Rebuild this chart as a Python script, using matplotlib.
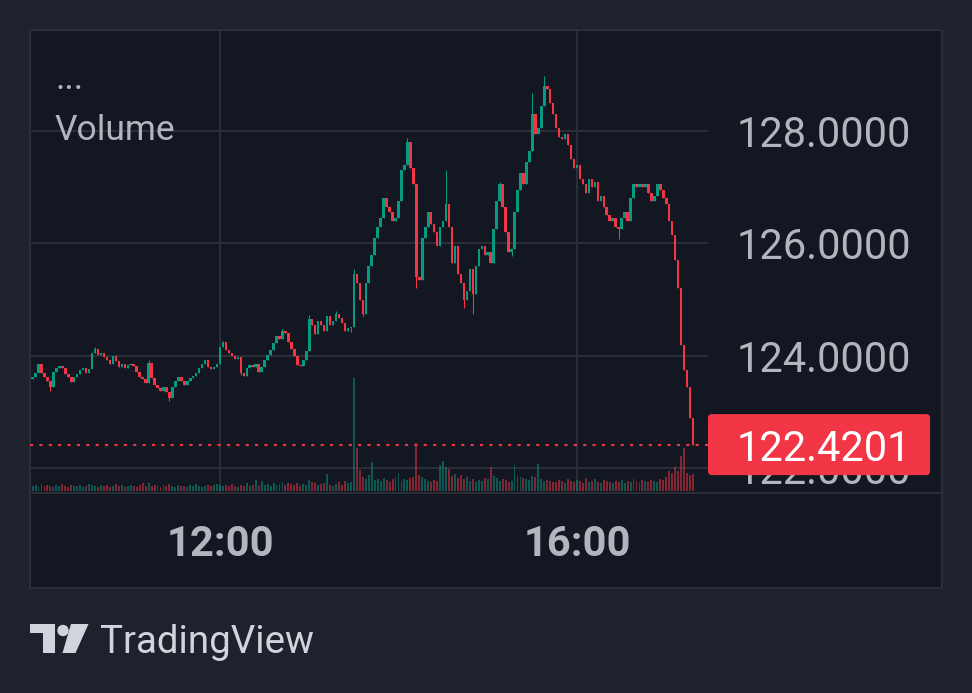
import numpy as np
import matplotlib
matplotlib.use("Agg")
import matplotlib.pyplot as plt
from matplotlib.patches import FancyBboxPatch, Polygon, Circle

# 2-minute bars, 09:54 -> 17:18
start_min = 9 * 60 + 54
bar_min = 2
first_open = 123.58
closes = [
    123.62, 123.70, 123.85, 123.70, 123.62, 123.55, 123.45, 123.72, 123.78, 123.81,
    123.78, 123.68, 123.62, 123.53, 123.62, 123.68, 123.74, 123.78, 123.70, 123.76,
    124.05, 124.12, 124.02, 124.05, 123.98, 123.92, 123.85, 123.99, 123.90, 123.80,
    123.86, 123.78, 123.84, 123.86, 123.82, 123.72, 123.62, 123.58, 123.52, 123.88,
    123.60, 123.48, 123.42, 123.38, 123.44, 123.36, 123.25, 123.45, 123.55, 123.62,
    123.55, 123.48, 123.56, 123.60, 123.64, 123.70, 123.78, 123.86, 123.92, 123.80,
    123.76, 123.80, 123.86, 124.15, 124.24, 124.10, 124.05, 124.00, 123.94, 123.98,
    123.70, 123.64, 123.78, 123.84, 123.80, 123.86, 123.72, 123.80, 123.92, 124.02,
    124.10, 124.22, 124.35, 124.30, 124.44, 124.40, 124.25, 124.12, 124.00, 123.84,
    123.82, 123.92, 124.08, 124.65, 124.55, 124.38, 124.62, 124.55, 124.45, 124.70,
    124.55, 124.62, 124.75, 124.68, 124.58, 124.45, 124.50, 124.52, 125.45, 125.30,
    125.00, 124.75, 125.30, 125.60, 125.80, 126.10, 126.30, 126.45, 126.80, 126.65,
    126.55, 126.40, 126.45, 126.75, 127.30, 127.40, 127.80, 127.35, 127.05, 125.40,
    125.35, 126.10, 126.30, 126.55, 126.35, 126.20, 125.95, 126.30, 126.40, 126.70,
    126.30, 125.65, 125.95, 125.45, 125.30, 125.00, 125.15, 125.55, 125.10, 125.60,
    125.90, 125.95, 125.80, 125.85, 125.65, 126.25, 126.75, 127.05, 126.65, 126.20,
    125.85, 125.90, 126.55, 126.95, 127.25, 127.05, 127.45, 127.65, 128.30, 127.95,
    128.05, 128.45, 128.80, 128.75, 128.50, 128.30, 128.05, 127.90, 127.85, 127.95,
    127.75, 127.50, 127.35, 127.40, 127.15, 127.05, 126.90, 127.15, 127.00, 127.10,
    126.75, 126.85, 126.65, 126.50, 126.40, 126.45, 126.30, 126.25, 126.45, 126.55,
    126.40, 126.80, 127.05, 127.00, 127.05, 127.00, 127.05, 126.90, 126.75, 126.85,
    127.05, 126.95, 126.80, 126.70, 126.40, 126.15, 125.70, 125.20, 124.20, 123.75,
    123.45, 122.90, 122.4201,
]
wick_high = {21: 124.15, 39: 123.92, 64: 124.27, 84: 124.47, 93: 124.72, 102: 124.80,
             108: 125.55, 126: 127.88, 139: 127.30, 157: 127.10, 168: 128.68, 172: 128.97}
wick_low = {6: 123.38, 46: 123.20, 70: 123.65, 107: 124.42, 111: 124.70, 129: 125.20,
            145: 124.85, 148: 124.75, 161: 125.78, 197: 126.08}
volume = [
    5, 6, 4, 7, 5, 6, 5, 4, 6, 5,
    7, 5, 4, 6, 5, 5, 6, 4, 5, 7,
    6, 5, 4, 6, 5, 6, 4, 5, 7, 5,
    6, 4, 5, 6, 5, 4, 6, 8, 5, 8,
    5, 6, 5, 4, 6, 5, 7, 5, 4, 6,
    5, 5, 4, 6, 5, 7, 5, 4, 5, 6,
    5, 6, 7, 6, 5, 6, 5, 7, 5, 4,
    6, 5, 8, 5, 6, 11, 5, 10, 6, 7,
    5, 8, 6, 7, 9, 6, 8, 7, 6, 8,
    5, 7, 6, 11, 9, 8, 6, 7, 8, 17,
    6, 5, 7, 9, 6, 10, 8, 9, 113, 43,
    21, 14, 12, 16, 29, 11, 12, 10, 13, 11,
    9, 12, 14, 18, 10, 12, 11, 13, 14, 48,
    16, 14, 12, 10, 9, 11, 10, 26, 30, 24,
    22, 15, 17, 13, 16, 12, 14, 10, 12, 9,
    11, 10, 13, 12, 24, 15, 13, 10, 12, 11,
    9, 10, 26, 15, 14, 13, 12, 11, 15, 14,
    27, 12, 10, 11, 10, 9, 9, 11, 10, 8,
    12, 10, 9, 11, 10, 8, 13, 9, 10, 12,
    9, 8, 11, 10, 9, 8, 10, 9, 11, 8,
    10, 9, 12, 10, 9, 11, 10, 9, 11, 10,
    9, 12, 11, 14, 20, 18, 24, 20, 35, 43,
    18, 16, 17,
]
price_ticks = [122, 124, 126, 128]
time_ticks = [12 * 60, 16 * 60]
time_labels = ["12:00", "16:00"]

UP = "#089981"
DOWN = "#f23645"
BG = "#1e222d"
PANE = "#131722"
GRID = "#2a2e39"
TXT = "#b2b5be"

plt.rcParams["font.family"] = ["Roboto", "DejaVu Sans"]

W, H = 972, 693
fig = plt.figure(figsize=(W / 100, H / 100), dpi=100, facecolor=BG)


def box(l, t, r, b):
    return [l / W, 1 - b / H, (r - l) / W, (b - t) / H]


closes = np.array(closes)
opens = np.concatenate([[first_open], closes[:-1]])
t = start_min + bar_min * np.arange(len(closes))
colors = [UP if c >= o else DOWN for o, c in zip(opens, closes)]
highs = np.array([max(o, c, wick_high.get(i, c)) for i, (o, c) in enumerate(zip(opens, closes))])
lows = np.array([min(o, c, wick_low.get(i, c)) for i, (o, c) in enumerate(zip(opens, closes))])

xlim = (592.27, 1048.07)
ylim = (121.559, 129.797)

# pane background + frame
pane = fig.add_axes(box(30, 30, 942, 588))
pane.set_facecolor(PANE)
pane.set_xticks([])
pane.set_yticks([])
for s in pane.spines.values():
    s.set_color(GRID)
    s.set_linewidth(1.5)
pane.axhline((588 - 493) / 558, color=GRID, lw=1.5)

# grid
gax = fig.add_axes(box(30, 30, 708, 493))
gax.set_xlim(xlim)
gax.set_ylim(ylim)
gax.axis("off")
for p in price_ticks:
    gax.axhline(p, color=GRID, lw=1.5)
for tt in time_ticks:
    gax.axvline(tt, color=GRID, lw=1.5)

# volume
vax = fig.add_axes(box(30, 30, 708, 493))
vax.bar(t, volume, width=1.3, color=colors, alpha=0.5, linewidth=0)
vax.set_xlim(xlim)
vax.set_ylim(-2, 461)
vax.axis("off")

# candles
ax = fig.add_axes(box(30, 30, 708, 493))
ax.patch.set_alpha(0)
ax.axhline(closes[-1], color=DOWN, ls=(0, (1.5, 3)), lw=1.5, zorder=1)
ax.vlines(t, lows, highs, colors=colors, lw=0.75, zorder=2)
ax.bar(t, np.maximum(np.abs(closes - opens), 0.02), bottom=np.minimum(opens, closes),
       width=1.7, color=colors, linewidth=0, zorder=3)
ax.set_xlim(xlim)
ax.set_ylim(ylim)
ax.set_yticks([])
ax.set_xticks(time_ticks, time_labels)
ax.tick_params(axis="x", length=0, pad=22, labelsize=30, labelcolor=TXT)
for lab in ax.get_xticklabels():
    lab.set_fontweight("bold")
for s in ax.spines.values():
    s.set_visible(False)

# price scale
pax = fig.add_axes(box(708, 30, 942, 493))
pax.patch.set_alpha(0)
pax.set_xlim(0, 1)
pax.set_ylim(ylim)
pax.axis("off")
for p in price_ticks:
    pax.text(0.124, p, f"{p:.4f}", color=TXT, fontsize=30, va="center_baseline",
             ha="left", clip_on=True)
hb = 61 / 56.2
pax.add_patch(FancyBboxPatch((0, closes[-1] - hb / 2), 0.949, hb,
                             boxstyle="round,pad=0,rounding_size=0.017",
                             mutation_aspect=4.16, fc=DOWN, ec="none", zorder=5))
pax.text(0.124, closes[-1], f"{closes[-1]:.4f}", color="white", fontsize=30,
         va="center_baseline", ha="left", zorder=6)

# overlay: legend text + logo
ov = fig.add_axes([0, 0, 1, 1])
ov.set_xlim(0, W)
ov.set_ylim(H, 0)
ov.axis("off")
ov.patch.set_alpha(0)
ov.text(55, 89, "...", color=TXT, fontsize=26, va="baseline")
ov.text(54, 140, "Volume", color=TXT, fontsize=25.5, va="baseline")
LOGO = "#d1d4dc"
ov.add_patch(Polygon([(30, 624), (55, 624), (55, 653), (43, 653), (43, 633), (30, 633)],
                     closed=True, fc=LOGO, ec="none"))
ov.add_patch(Circle((63, 630.5), 5.7, fc=LOGO, ec="none"))
ov.add_patch(Polygon([(71, 624), (88.5, 624), (75.5, 653), (62.5, 653)], closed=True,
                     fc=LOGO, ec="none"))
ov.text(100, 653, "TradingView", color=LOGO, fontsize=27.7, va="baseline")

fig.savefig("out.png", dpi=100, facecolor=BG)
